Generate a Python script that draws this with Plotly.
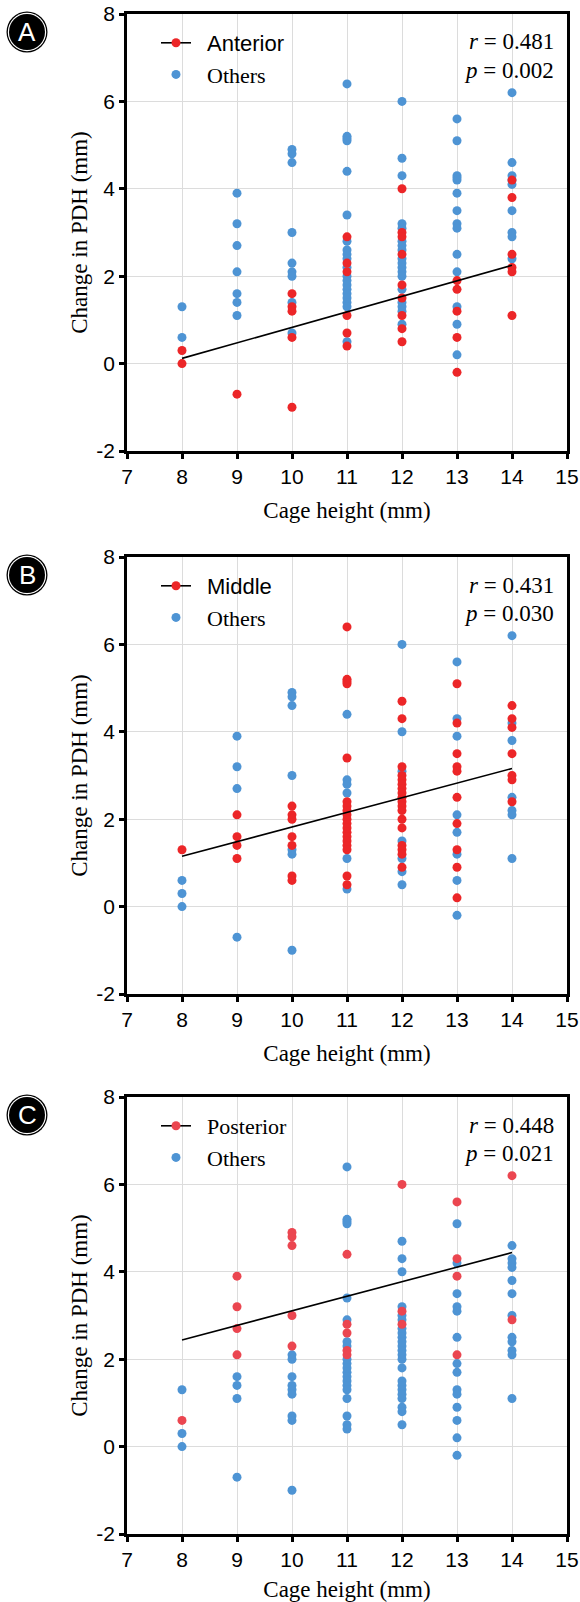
import plotly.graph_objects as go

# ---------------- data ----------------
HEIGHTS = [8, 9, 10, 11, 12, 13, 14]

# Panel A
A_ANTERIOR = [[0.3, 0.0], [-0.7], [1.6, 1.3, 1.2, 0.6, -1.0], [2.9, 2.3, 2.1, 1.1, 0.7, 0.4],
              [4.0, 3.0, 2.9, 2.5, 1.8, 1.5, 1.1, 0.8, 0.5], [1.9, 1.7, 1.2, 0.6, -0.2],
              [4.2, 3.8, 2.5, 2.2, 2.1, 1.1]]
A_OTHERS = [[1.3, 0.6], [3.9, 3.2, 2.7, 2.1, 1.6, 1.4, 1.1],
            [4.9, 4.8, 4.6, 3.0, 2.3, 2.1, 2.0, 1.4, 0.7],
            [6.4, 5.2, 5.15, 5.1, 4.4, 3.4, 2.8, 2.6, 2.5, 2.4, 2.2, 2.0, 1.9, 1.8, 1.7, 1.6, 1.5, 1.4, 1.3, 0.5],
            [6.0, 4.7, 4.3, 3.2, 3.1, 2.8, 2.7, 2.6, 2.4, 2.3, 2.2, 2.1, 2.0, 1.7, 1.4, 1.3, 1.2, 0.9],
            [5.6, 5.1, 4.3, 4.25, 4.2, 3.9, 3.5, 3.2, 3.1, 2.5, 2.1, 1.3, 0.9, 0.2],
            [6.2, 4.6, 4.3, 4.2, 4.1, 3.5, 3.0, 2.9, 2.4]]

# Panel B
B_MIDDLE = [[1.3], [2.1, 1.6, 1.4, 1.1], [2.3, 2.1, 2.0, 1.6, 1.4, 0.7, 0.6],
            [6.4, 5.2, 5.15, 5.1, 3.4, 2.4, 2.3, 2.2, 2.1, 2.0, 1.9, 1.8, 1.7, 1.6, 1.5, 1.4, 1.3, 0.7, 0.5],
            [4.7, 4.3, 3.2, 3.0, 2.9, 2.8, 2.7, 2.6, 2.5, 2.4, 2.3, 2.2, 2.0, 1.8, 1.4, 1.3, 1.2, 0.9],
            [5.1, 4.2, 3.5, 3.2, 3.1, 2.5, 1.9, 1.3, 0.9, 0.2],
            [4.6, 4.3, 4.1, 3.5, 3.0, 2.9, 2.4]]
B_OTHERS = [[0.6, 0.3, 0.0], [3.9, 3.2, 2.7, -0.7], [4.9, 4.8, 4.6, 3.0, 1.3, 1.2, -1.0],
            [4.4, 2.9, 2.8, 2.6, 1.1, 0.4], [6.0, 4.0, 3.1, 1.5, 1.1, 0.8, 0.5],
            [5.6, 4.3, 3.9, 2.1, 1.7, 1.2, 0.6, -0.2],
            [6.2, 4.2, 3.8, 2.5, 2.2, 2.1, 1.1]]

# Panel C
C_POSTERIOR = [[0.6], [3.9, 3.2, 2.7, 2.1], [4.9, 4.8, 4.6, 3.0, 2.3], [4.4, 2.8, 2.6, 2.2, 2.1],
               [6.0, 3.1, 2.8], [5.6, 4.3, 3.9, 2.1], [6.2, 2.9]]
C_OTHERS = [[1.3, 0.3, 0.0], [1.6, 1.4, 1.1, -0.7], [2.1, 2.0, 1.6, 1.4, 1.3, 1.2, 0.7, 0.6, -1.0],
            [6.4, 5.2, 5.15, 5.1, 3.4, 2.9, 2.4, 2.3, 2.0, 1.9, 1.8, 1.7, 1.6, 1.5, 1.4, 1.3, 1.1, 0.7, 0.5, 0.4],
            [4.7, 4.3, 4.0, 3.2, 3.0, 2.9, 2.7, 2.6, 2.5, 2.4, 2.3, 2.2, 2.1, 2.0, 1.8, 1.5, 1.4, 1.3, 1.2, 1.1, 0.9, 0.8, 0.5],
            [5.1, 4.2, 3.5, 3.2, 3.1, 2.5, 1.9, 1.7, 1.3, 1.2, 0.9, 0.6, 0.2, -0.2],
            [4.6, 4.3, 4.2, 4.1, 3.8, 3.5, 3.0, 2.5, 2.4, 2.2, 2.1, 1.1]]

# regression lines (values at cage height 8 and 14)
FIT_X = [8, 14]
FIT_A = [0.12, 2.25]
FIT_B = [1.15, 3.16]
FIT_C = [2.44, 4.44]

R_VALUES = ["0.481", "0.431", "0.448"]
P_VALUES = ["0.002", "0.030", "0.021"]
PANEL_LETTERS = ["A", "B", "C"]

X_TICKS = [7, 8, 9, 10, 11, 12, 13, 14, 15]
Y_TICKS = [-2, 0, 2, 4, 6, 8]
Y_TICK_TEXT = ["-2", "0", "2", "4", "6", "8"]

# ---------------- styling ----------------
SERIF = "Liberation Serif, Times New Roman, serif"
SANS = "Liberation Sans, Arial, sans-serif"
BLUE = "#4E94D4"
REDS = ["#EC2628", "#EC2628", "#EB4650"]
W, H = 580, 1602
ML, MR, MT, MB = 127, 13, 14, 68
PW = W - ML - MR
PH = H - MT - MB
PANEL_TOPS = [14, 557, 1097]
PANEL_H = 437
NB = "\u00a0\u00a0"


def px2x(px):
    return (px - ML) / PW


def py2y(py):
    return (H - MB - py) / PH


def flatten(groups):
    xs, ys = [], []
    for h, vals in zip(HEIGHTS, groups):
        for v in vals:
            xs.append(h)
            ys.append(v)
    return xs, ys


panels = [(A_ANTERIOR, A_OTHERS, FIT_A), (B_MIDDLE, B_OTHERS, FIT_B), (C_POSTERIOR, C_OTHERS, FIT_C)]
legend_names = [
    NB + '<span style="font-family:Liberation Sans, Arial, sans-serif">Anterior</span>',
    NB + '<span style="font-family:Liberation Sans, Arial, sans-serif">Middle</span>',
    NB + 'Posterior',
]

fig = go.Figure()
layout = dict(
    width=W, height=H,
    margin=dict(l=ML, r=MR, t=MT, b=MB, autoexpand=False),
    paper_bgcolor="white", plot_bgcolor="white",
    showlegend=True,
    shapes=[], annotations=[],
)

for i, (red_groups, blue_groups, fit) in enumerate(panels):
    sfx = "" if i == 0 else str(i + 1)
    xa, ya = "x" + sfx, "y" + sfx
    leg = "legend" + sfx
    bx, by = flatten(blue_groups)
    rx, ry = flatten(red_groups)
    red = REDS[i]
    fig.add_trace(go.Scatter(x=bx, y=by, mode="markers", xaxis=xa, yaxis=ya,
                             marker=dict(color=BLUE, size=9, line=dict(width=0)),
                             showlegend=False, hoverinfo="skip"))
    fig.add_trace(go.Scatter(x=rx, y=ry, mode="markers", xaxis=xa, yaxis=ya,
                             marker=dict(color=red, size=9, line=dict(width=0)),
                             showlegend=False, hoverinfo="skip"))
    fig.add_trace(go.Scatter(x=FIT_X, y=fit, mode="lines", xaxis=xa, yaxis=ya,
                             line=dict(color="black", width=1.6),
                             showlegend=False, hoverinfo="skip"))
    fig.add_trace(go.Scatter(x=[None], y=[None], mode="lines+markers", xaxis=xa, yaxis=ya,
                             name=legend_names[i], legend=leg,
                             line=dict(color="black", width=1.6),
                             marker=dict(color=red, size=9)))
    fig.add_trace(go.Scatter(x=[None], y=[None], mode="markers", xaxis=xa, yaxis=ya,
                             name=NB + "Others", legend=leg,
                             marker=dict(color=BLUE, size=9)))

    top = PANEL_TOPS[i]
    bottom = top + PANEL_H
    dom_y = [py2y(bottom), py2y(top)]
    axis_common = dict(showline=True, linecolor="black", linewidth=2.5, mirror=True,
                       ticks="outside", ticklen=5, tickwidth=2.5, tickcolor="black",
                       showgrid=True, gridcolor="#DCDCDC", gridwidth=1, zeroline=False,
                       automargin=False,
                       tickfont=dict(family=SANS, size=21, color="black"))
    layout["xaxis" + sfx] = dict(axis_common, domain=[0, 1], range=[7, 15], tickvals=X_TICKS,
                                 anchor=ya,
                                 title=dict(text="Cage height (mm)",
                                            font=dict(family=SERIF, size=23, color="black")))
    layout["yaxis" + sfx] = dict(axis_common, domain=dom_y, range=[-2, 8], tickvals=Y_TICKS,
                                 ticktext=Y_TICK_TEXT, anchor=xa,
                                 title=dict(text="Change in PDH (mm)", standoff=3,
                                            font=dict(family=SERIF, size=23, color="black")))
    layout[leg] = dict(x=px2x(156), y=py2y(top + 8), xanchor="left", yanchor="top",
                       bgcolor="rgba(0,0,0,0)", borderwidth=0, itemwidth=30,
                       font=dict(family=SERIF, size=22, color="black"), tracegroupgap=0)
    # r / p annotation
    for txt, dy in [(f"<i>r</i> = {R_VALUES[i]}", 28), (f"<i>p</i> = {P_VALUES[i]}", 56)]:
        layout["annotations"].append(dict(
            x=px2x(556), y=py2y(top + dy), xref="paper", yref="paper",
            xanchor="right", yanchor="middle", align="right", showarrow=False,
            text=txt, font=dict(family=SERIF, size=23, color="black")))
    # panel badge
    cx, cy = 27, top + 18
    for r, col in [(20.5, "black"), (19.2, "white"), (18.0, "black")]:
        layout["shapes"].append(dict(type="circle", xref="paper", yref="paper",
                                     x0=px2x(cx - r), x1=px2x(cx + r),
                                     y0=py2y(cy + r), y1=py2y(cy - r),
                                     fillcolor=col, line=dict(width=0), layer="above"))
    layout["annotations"].append(dict(
        x=px2x(cx), y=py2y(cy), xref="paper", yref="paper", xanchor="center", yanchor="middle",
        showarrow=False, text=PANEL_LETTERS[i],
        font=dict(family=SANS, size=26, color="white")))

fig.update_layout(**layout)
fig.write_html("out.html")
